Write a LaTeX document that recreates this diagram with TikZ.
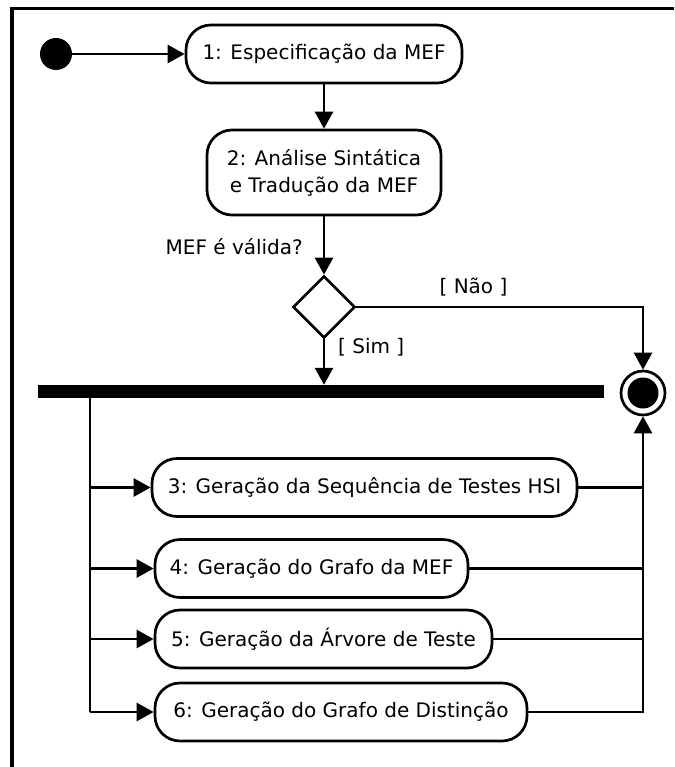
\documentclass[tikz,border=0pt]{standalone}
\usepackage{fontspec}
\setmainfont{DejaVu Sans}
\usetikzlibrary{arrows.meta,shapes.geometric}
\begin{document}
\begin{tikzpicture}[x=1pt,y=-1pt,
  every node/.style={font=\fontsize{20}{27}\selectfont},
  act/.style={draw, line width=2.7pt, rounded corners=25pt, minimum height=58pt,
              inner sep=0pt, align=center},
  lbl/.style={inner sep=0pt},
  arr/.style={line width=2.7pt, -{Triangle[length=17pt,width=18pt]}},
  ln/.style={line width=2.7pt},
]
\useasboundingbox (0,0) rectangle (674,767);
% frame
\draw[line width=3.5pt] (12,767) -- (12,8.5) -- (674,8.5);

% initial and final states
\node[circle, fill, minimum size=32pt, inner sep=0pt] (start) at (56,54) {};
\node[circle, draw, line width=2.7pt, minimum size=44pt, inner sep=0pt] (fin) at (643,393) {};
\node[circle, fill, minimum size=31pt, inner sep=0pt] (fincore) at (fin) {};

% activities
\node[act, minimum width=276pt] (n1) at (324,54) {1: Especificação da MEF};
\node[act, minimum width=234pt, minimum height=85pt] (n2) at (324,172.5)
  {2: Análise Sintática\\e Tradução da MEF};
\node[diamond, draw, line width=2.7pt, minimum size=62pt, inner sep=0pt] (d) at (324,307) {};
\node[fill, inner sep=0pt, minimum width=566pt, minimum height=13pt] (bar) at (321,391.5) {};

\node[act, minimum width=425pt] (n3) at (364.5,487.5) {3: Geração da Sequência de Testes HSI};
\node[act, minimum width=313pt] (n4) at (311.5,568.5) {4: Geração do Grafo da MEF};
\node[act, minimum width=337pt] (n5) at (323.5,639) {5: Geração da Árvore de Teste};
\node[act, minimum width=372pt] (n6) at (341,712) {6: Geração do Grafo de Distinção};

% labels
\node[lbl, anchor=east] (q) at (303,247) {MEF é válida?};
\node[lbl] (nao) at (473.5,287) {[ Não ]};
\node[lbl, anchor=west] (sim) at (338,347) {[ Sim ]};

% helper columns
\coordinate (lft) at (90,0);
\coordinate (rgt) at (643,0);

% control flow
\draw[arr] (start) -- (n1.west);
\draw[arr] (n1.south) -- (n2.north);
\draw[arr] (n2.south) -- (d.north);
\draw[arr] (d.east) -| (fin.north);
\draw[arr] (d.south) -- (d.south |- bar.north);

\draw[ln] (bar.south -| lft) -- (n6.west -| lft);
\draw[arr] (n3.west -| lft) -- (n3.west);
\draw[arr] (n4.west -| lft) -- (n4.west);
\draw[arr] (n5.west -| lft) -- (n5.west);
\draw[arr] (n6.west -| lft) -- (n6.west);

\draw[ln] (n3.east) -- (n3.east -| rgt);
\draw[ln] (n4.east) -- (n4.east -| rgt);
\draw[ln] (n5.east) -- (n5.east -| rgt);
\draw[arr] (n6.east) -| (fin.south);
\end{tikzpicture}
\end{document}
